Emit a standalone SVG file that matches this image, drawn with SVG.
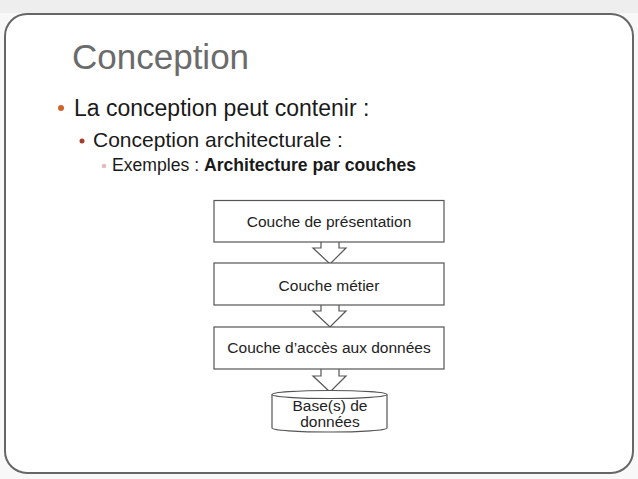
<svg xmlns="http://www.w3.org/2000/svg" width="638" height="479" viewBox="0 0 638 479">
  <style>
    .t { font-family: "Liberation Sans", Arial, sans-serif; }
    .box { fill: #ffffff; stroke: #555555; stroke-width: 1.2; }
    .arrow { fill: #ffffff; stroke: #555555; stroke-width: 1.2; stroke-linejoin: miter; }
    .lbl { font-family: "Liberation Sans", Arial, sans-serif; font-size: 15.5px; fill: #222222; text-anchor: middle; }
  </style>
  <rect x="0" y="0" width="638" height="479" fill="#f8f8f8"/>
  <rect x="0" y="0" width="638" height="13" fill="#eeeeee"/>
  <rect id="card" x="5" y="14" width="628" height="459" rx="22" ry="22" fill="#ffffff" stroke="#666666" stroke-width="2"/>

  <g id="title">
    <text class="t" x="72" y="69" font-size="35" fill="#6b6b6b">Conception</text>
  </g>
  <g id="bullets">
    <circle cx="61" cy="108" r="3" fill="#d0632b"/>
    <text class="t" x="74" y="116" font-size="23" fill="#1a1a1a">La conception peut contenir :</text>
    <circle cx="82" cy="141" r="2.5" fill="#a53c2c"/>
    <text class="t" x="93" y="147" font-size="21" fill="#1a1a1a">Conception architecturale :</text>
    <circle cx="104" cy="166" r="2.3" fill="#e4bcbc"/>
    <text class="t" x="112" y="171" font-size="17.6" fill="#1a1a1a">Exemples : <tspan font-weight="bold">Architecture par couches</tspan></text>
  </g>

  <g id="connectors">
    <path class="arrow" d="M321,242 L321,248 L313,248 L330,264 L346,248 L339,248 L339,242"/>
    <path class="arrow" d="M321,305 L321,311 L313,311 L330,327 L346,311 L339,311 L339,305"/>
    <path class="arrow" d="M321,369 L321,376 L313,376 L330,392 L346,376 L339,376 L339,369"/>
  </g>

  <g id="layer-presentation">
    <rect class="box" x="214" y="200.5" width="230" height="41.5"/>
    <text class="lbl" x="329" y="227">Couche de présentation</text>
  </g>
  <g id="layer-metier">
    <rect class="box" x="214" y="263" width="230" height="42"/>
    <text class="lbl" x="329" y="290.5">Couche métier</text>
  </g>
  <g id="layer-acces">
    <rect class="box" x="214" y="327" width="230" height="42"/>
    <text class="lbl" x="329" y="352.5">Couche d’accès aux données</text>
  </g>
  <g id="database">
    <path class="box" d="M272,394.5 L272,428 A57.5,4 0 0 0 387,428 L387,394.5"/>
    <ellipse class="box" cx="329.5" cy="394.5" rx="57.5" ry="4"/>
    <text class="lbl" x="330" y="411">Base(s) de</text>
    <text class="lbl" x="330" y="427">données</text>
  </g>
</svg>
